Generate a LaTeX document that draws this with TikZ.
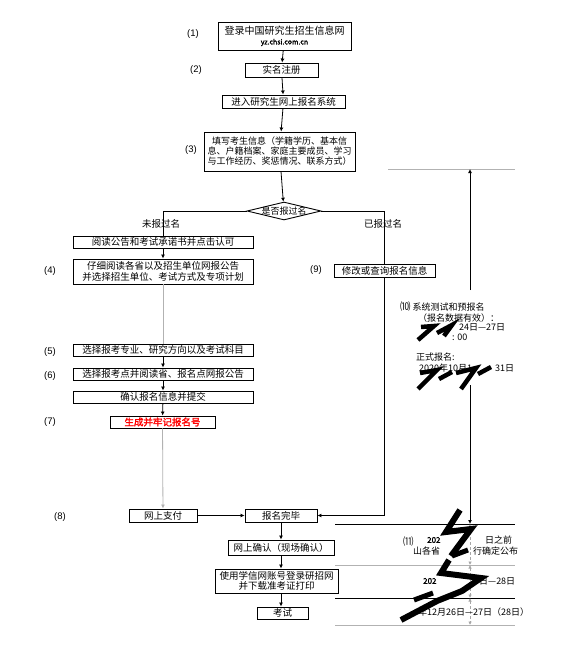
\documentclass[tikz,border=0pt]{standalone}
\usepackage{fontspec}
\setmainfont{Liberation Sans}
\newfontfamily\cjk[AutoFakeBold=2]{Noto Sans CJK SC}
\usetikzlibrary{arrows.meta,shapes.geometric}
\tikzset{
 box/.style={draw, line width=0.9pt, inner sep=0pt, align=center, font=\cjk\fontsize{9.5}{10.5}\selectfont},
 lbl/.style={font=\fontsize{9.5}{11}\selectfont, inner sep=0pt},
 arr/.style={line width=0.8pt, -{Latex[length=4pt,width=4pt]}},
 garr/.style={line width=0.8pt, draw=gray!60, -{Latex[length=4pt,width=4pt]}},
 ln/.style={line width=0.8pt},
 gln/.style={line width=0.8pt, draw=gray!60},
 dim/.style={line width=0.6pt, draw=gray!70, densely dashed, {Latex[length=3.5pt,width=3.5pt]}-{Latex[length=3.5pt,width=3.5pt]}},
 note/.style={font=\cjk\fontsize{9}{10}\selectfont, inner sep=0pt, anchor=west},
 blot/.style={line width=4.5pt, line join=miter, line cap=butt, black},
}
\begin{document}
\begin{tikzpicture}[x=1pt,y=-1pt]
\useasboundingbox (0,0) rectangle (563,661);
% main boxes
\node[box, minimum width=133, minimum height=28, font=\cjk\fontsize{10}{11}\selectfont] (n1) at (284.5,36) {登录中国研究生招生信息网\\[-1pt]{\fontsize{7}{8}\selectfont\bfseries yz.chsi.com.cn}};
\node[box, minimum width=73, minimum height=14] (n2) at (281.5,70) {实名注册};
\node[box, minimum width=123, minimum height=13] (n3) at (283.5,101.5) {进入研究生网上报名系统};
\node[box, minimum width=151, minimum height=39, font=\cjk\fontsize{9}{10}\selectfont] (n4) at (279.5,151.5) {填写考生信息（学籍学历、基本信\\息、户籍档案、家庭主要成员、学习\\与工作经历、奖惩情况、联系方式）};
\node[diamond, draw, line width=0.9pt, inner sep=0pt, minimum width=74, minimum height=18] (d) at (284,211) {};
\node[font=\cjk\fontsize{9}{10}\selectfont, inner sep=0pt] (dt) at (d) {是否报过名};
\node[box, minimum width=180, minimum height=12] (n5) at (163,242) {阅读公告和考试承诺书并点击认可};
\node[box, minimum width=180, minimum height=25] (n6) at (163,271.5) {仔细阅读各省以及招生单位网报公告\\并选择招生单位、考试方式及专项计划};
\node[box, minimum width=180, minimum height=12] (n7) at (163,350) {选择报考专业、研究方向以及考试科目};
\node[box, minimum width=180, minimum height=12] (n8) at (163,374) {选择报考点并阅读省、报名点网报公告};
\node[box, minimum width=180, minimum height=12] (n9) at (163,397) {确认报名信息并提交};
\node[box, minimum width=105, minimum height=12, text=red, font=\cjk\bfseries\fontsize{9.5}{10.5}\selectfont] (n10) at (162.5,422) {生成并牢记报名号};
\node[box, minimum width=68, minimum height=13] (n11) at (163,515.5) {网上支付};
\node[box, minimum width=72, minimum height=13] (n12) at (281,515.5) {报名完毕};
\node[box, minimum width=101, minimum height=13] (n13) at (384.5,270.5) {修改或查询报名信息};
\node[box, minimum width=106, minimum height=15] (n14) at (281,547.5) {网上确认（现场确认）};
\node[box, minimum width=123, minimum height=24] (n15) at (276.5,581) {使用学信网账号登录研招网\\并下载准考证打印};
\node[box, minimum width=51, minimum height=12] (n16) at (282.5,613) {考试};
% step labels
\node[lbl] (l1) at (193,34) {(1)};
\node[lbl] (l2) at (196,70) {(2)};
\node[lbl] (l3) at (191,150) {(3)};
\node[lbl] (l4) at (50,271) {(4)};
\node[lbl] (l5) at (50,352) {(5)};
\node[lbl] (l6) at (50,376) {(6)};
\node[lbl] (l7) at (50,422) {(7)};
\node[lbl] (l8) at (60,517) {(8)};
\node[lbl] (l9) at (316,270) {(9)};
\node[font=\cjk\fontsize{9.5}{10.5}\selectfont, inner sep=0pt] (yes) at (161,224) {未报过名};
\node[font=\cjk\fontsize{9.5}{10.5}\selectfont, inner sep=0pt] (no) at (383,224) {已报过名};
% connectors
\draw[arr] (n1) -- (n2);
\draw[arr] (n2) -- (n3);
\draw[arr] (n3) -- (n4);
\draw[arr] (n4) -- (d);
\draw[ln] (d.west) -| (n5.north);
\draw[arr] (n5) -- (n6);
\draw[gln] (n6) -- (n7);
\draw[arr] (n7) -- (n8);
\draw[arr] (n8) -- (n9);
\draw[arr] (n9) -- (n10);
\draw[garr] (n10) -- (n11);
\draw[arr] (n11) -- (n12);
\draw[ln] (d.east) -| (n13.north);
\draw[arr] (n13.south) |- (n12.east);
\draw[arr] (n12) -- (n14);
\draw[arr] (n14.south) -- (n14.south |- n15.north);
\draw[arr] (n14.south |- n15.south) -- (n14.south |- n16.north);
% right-hand timeline
\coordinate (ta) at (388,169);
\coordinate (tb) at (515,169);
\coordinate (h1a) at (335,524);
\coordinate (h1b) at (515,524);
\coordinate (h2a) at (335,565);
\coordinate (h2b) at (515,565);
\coordinate (h3a) at (335,598);
\coordinate (h3b) at (515,598);
\coordinate (h4a) at (335,625);
\coordinate (h4b) at (515,625);
\coordinate (v0) at (470,169);
\coordinate (v1) at (470,290);
\coordinate (v2) at (470,385);
\coordinate (v3) at (470,524);
\coordinate (v4) at (470,565);
\coordinate (v5) at (470,598);
\coordinate (v6) at (470,625);
\draw[gln] (ta) -- (tb);
\draw[ln] (h1a) -- (h1b);
\draw[gln] (h2a) -- (h2b);
\draw[ln] (h3a) -- (h3b);
\draw[gln] (h4a) -- (h4b);
\draw[arr] (v1) -- (v0);
\draw[arr] (v2) -- (v3);
\draw[dim] (v3) -- (v4);
\draw[dim] (v4) -- (v5);
\draw[dim] (v5) -- (v6);
% (10) texts
\node[note] (a1) at (400,307) {{\fontsize{10.5}{11}\selectfont ⑽} 系统测试和预报名};
\node[note] (a2) at (418,318) {（报名数据有效）：};
\node[note] (a3) at (459,327) {24日—27日};
\node[note] (a4) at (452,337) {: 00};
\node[note] (a5) at (416,357) {正式报名:};
\node[note] (a6) at (419,368) {2020年10月1};
\node[note] (a7) at (495,368) {31日};
% (11) texts
\node[note, font=\cjk\fontsize{10.5}{11}\selectfont] (b1) at (403,542) {⑾};
\node[note, font=\cjk\bfseries\fontsize{8}{9}\selectfont] (b2) at (427,540) {202};
\node[note] (b3) at (485,540) {日之前};
\node[note] (b4) at (413,551) {山各省};
\node[note] (b5) at (473,551) {行确定公布};
\node[note, font=\cjk\bfseries\fontsize{8}{9}\selectfont] (b6) at (423,581) {202};
\node[note] (b7) at (479,581) {日—28日};
\node[note] (b8) at (418,612) {年12月26日—27日（28日）};
% scan blots
\draw[blot] (421,327) -- (434,326) -- (418,340);
\draw[blot] (437,333) -- (452,325) -- (444,336);
\draw[blot] (420,373) -- (437,370) -- (418,389);
\draw[blot] (439,379) -- (452,372);
\draw[blot] (456,373) -- (476,368) -- (461,389);
\draw[blot] (478,374) -- (491,367);
\draw[blot, line width=6pt] (460,510) -- (446,532) -- (471,529) -- (451,556);
\draw[blot, line width=5pt] (452,556) -- (468,550);
\draw[blot, line width=6pt] (449,560) -- (441,573) -- (481,578) -- (462,591) -- (437,601) -- (401,620);
\draw[blot, line width=5pt] (414,600) -- (433,593);
\end{tikzpicture}
\end{document}
